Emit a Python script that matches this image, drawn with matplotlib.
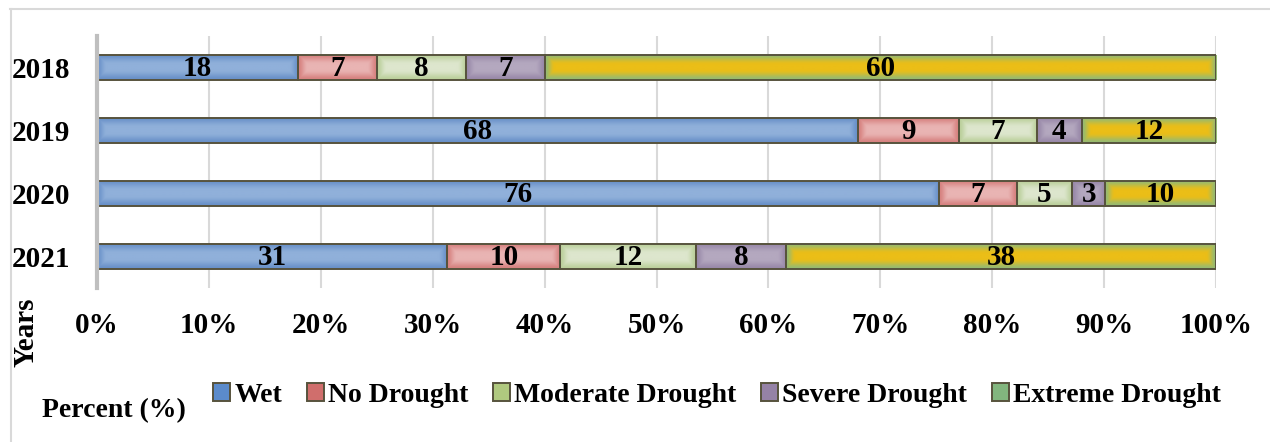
import numpy as np
import matplotlib
matplotlib.use("Agg")
import matplotlib.pyplot as plt
from matplotlib.patches import Patch
from matplotlib.lines import Line2D
from matplotlib.colors import to_rgb

# ---- data -----------------------------------------------------------------
years = ["2018", "2019", "2020", "2021"]
categories = ["Wet", "No Drought", "Moderate Drought", "Severe Drought", "Extreme Drought"]
wet = [18, 68, 76, 31]
no_drought = [7, 9, 7, 10]
moderate = [8, 7, 5, 12]
severe = [7, 4, 3, 8]
extreme = [60, 12, 10, 38]
x_ticks = [0, 10, 20, 30, 40, 50, 60, 70, 80, 90, 100]

# ---- style ----------------------------------------------------------------
legend_colors = ["#5B8BCB", "#D06E6C", "#B0C97F", "#9582A6", "#82B67E"]
fill_center = ["#90B0DA", "#E9B4B3", "#DDE6CD", "#B4A8BF", "#EBBE17"]
fill_edge = ["#6890C8", "#D6807E", "#BACF9A", "#9888A8", "#93BA74"]
outline = "#57533D"

plt.rcParams["font.family"] = ["Liberation Serif", "DejaVu Serif"]
plt.rcParams["font.weight"] = "bold"
FS = 21
FS_LEG = 20

fig = plt.figure(figsize=(12.70, 4.42), dpi=100)
ax = fig.add_axes([97 / 1270, 1 - 288 / 442, (1216 - 97) / 1270, (288 - 36) / 442])

series = [wet, no_drought, moderate, severe, extreme]
data = np.array(series, dtype=float)  # shape (5, 4)
totals = data.sum(axis=0)
shares = data / totals * 100.0

ypos = np.arange(len(years))
ax.set_ylim(len(years) - 0.5, -0.5)
ax.set_xlim(0, 100)

left = np.zeros(len(years))
bar_groups = []
for i, cat in enumerate(categories):
    bars = ax.barh(ypos, shares[i], left=left, height=0.4,
                   color=fill_center[i], edgecolor=outline, linewidth=1.4,
                   zorder=4, label=cat)
    bar_groups.append(bars)
    for j, b in enumerate(bars):
        cx = left[j] + shares[i][j] / 2
        ax.text(cx, ypos[j] + 0.02, f"{series[i][j]}", ha="center", va="center",
                fontsize=FS, fontweight="bold", color="black", zorder=6)
    left += shares[i]

# gradient shading inside each bar segment (lighter centre, darker rim)
fig.canvas.draw()
for i, bars in enumerate(bar_groups):
    c_in = np.array(to_rgb(fill_center[i]))
    c_out = np.array(to_rgb(fill_edge[i]))
    for b in bars:
        x0, y0 = b.get_x(), b.get_y()
        w, h = b.get_width(), b.get_height()
        (px0, py0), (px1, py1) = ax.transData.transform([(x0, y0), (x0 + w, y0 + h)])
        wpx, hpx = abs(px1 - px0), abs(py1 - py0)
        nx, ny = max(int(wpx), 2), max(int(hpx), 2)
        xs = (np.arange(nx) + 0.5) / nx * wpx
        ys = (np.arange(ny) + 0.5) / ny * hpx
        dx = np.minimum(xs, wpx - xs)[None, :]
        dy = np.minimum(ys, hpx - ys)[:, None]
        d = np.minimum(dx, dy)
        t = np.clip(d / 10.0, 0, 1)
        t = t * t * (3 - 2 * t)
        img = c_out[None, None, :] * (1 - t[..., None]) + c_in[None, None, :] * t[..., None]
        im = ax.imshow(img, extent=(x0, x0 + w, y0 + h, y0), aspect="auto",
                       interpolation="bilinear", zorder=3)
        im.set_clip_path(b)
    for b in bars:
        b.set_facecolor("none")

ax.set_xlim(0, 100)
ax.set_ylim(len(years) - 0.5, -0.5)

# axes styling
ax.set_xticks(x_ticks)
ax.set_xticklabels([f"{v}%" for v in x_ticks], fontsize=FS, fontweight="bold")
ax.set_yticks(ypos)
ax.set_yticklabels(years, fontsize=FS, fontweight="bold")
ax.tick_params(axis="both", length=0)
ax.tick_params(axis="x", pad=17.5)
ax.tick_params(axis="y", pad=19)
ax.grid(axis="x", color="#D9D9D9", linewidth=1.5, zorder=0)
ax.set_axisbelow(True)
for s in ["top", "right", "bottom"]:
    ax.spines[s].set_visible(False)
ax.spines["left"].set_color("#BFBFBF")
ax.spines["left"].set_linewidth(3)
ax.spines["left"].set_zorder(5)

# axis titles
fig.text(26 / 1270, 1 - 332 / 442, "Years", rotation=90, ha="center", va="center",
         fontsize=FS, fontweight="bold")
fig.text(42 / 1270, 1 - 411 / 442, "Percent (%)", ha="left", va="center",
         fontsize=FS_LEG, fontweight="bold")

# legend
handles = [Patch(facecolor=legend_colors[i], edgecolor=outline, linewidth=1.4, label=c)
           for i, c in enumerate(categories)]
fig.legend(handles=handles, loc="center", bbox_to_anchor=(717 / 1270, 1 - 395 / 442),
           ncol=5, frameon=False, prop={"size": FS_LEG, "weight": "bold"},
           handlelength=0.6, handleheight=0.6, handletextpad=0.15, columnspacing=0.9,
           borderpad=0, borderaxespad=0)

# chart frame
fig.add_artist(Line2D([10 / 1270, 1], [1 - 9 / 442, 1 - 9 / 442], color="#D9D9D9",
                      linewidth=1.5, transform=fig.transFigure))
fig.add_artist(Line2D([11 / 1270, 11 / 1270], [0, 1 - 9 / 442], color="#D9D9D9",
                      linewidth=1.5, transform=fig.transFigure))

fig.savefig("out.png", dpi=100, facecolor="white")
